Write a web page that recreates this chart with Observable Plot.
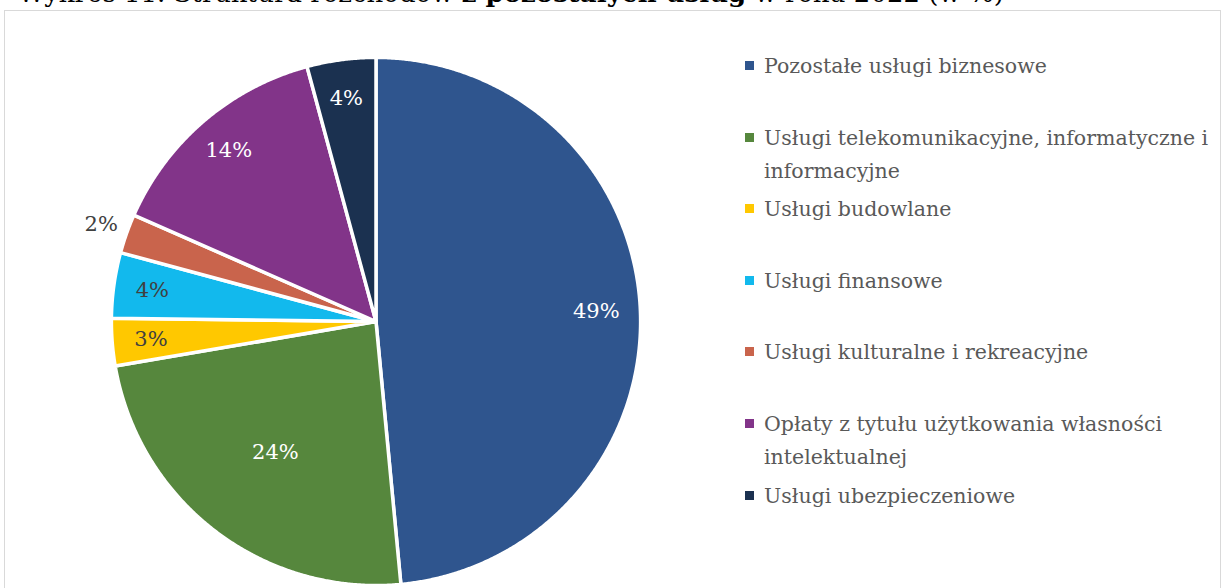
<!DOCTYPE html>
<html>
<head>
<meta charset="utf-8">
<script src="https://cdn.jsdelivr.net/npm/d3@7"></script>
<script src="https://cdn.jsdelivr.net/npm/@observablehq/plot@0.6"></script>
<style>
  html, body { margin: 0; padding: 0; background: #fff; overflow: hidden; }
  body { width: 1224px; height: 588px; position: relative; font-family: "DejaVu Serif", serif; }
  #title { position: absolute; left: 18px; top: -22px; font-size: 26px; color: #000; white-space: nowrap; line-height: 30px; }
  #frame { position: absolute; left: 4px; top: 10px; width: 1217px; height: 600px; border: 1px solid #d9d9d9; box-sizing: border-box; }
  #chart { position: absolute; left: 0; top: 0; }
  #legend { position: absolute; left: 745px; top: 50px; width: 478px; color: #595959; font-size: 20.5px; }
  .item { position: relative; height: 71.6px; }
  .sw { position: absolute; left: 0; top: 11px; width: 9px; height: 9px; }
  .lbl { position: absolute; left: 19px; top: 0; line-height: 33px; white-space: pre; }
</style>
</head>
<body>
<div id="frame"></div>
<div id="title">Wykres 11. Struktura rozchodów <b>z pozostałych usług</b> w roku 2022 (w %)</div>
<div id="chart"></div>
<div id="legend"></div>
<script>
const categories = [
  "Pozostałe usługi biznesowe",
  "Usługi telekomunikacyjne, informatyczne i informacyjne",
  "Usługi budowlane",
  "Usługi finansowe",
  "Usługi kulturalne i rekreacyjne",
  "Opłaty z tytułu użytkowania własności intelektualnej",
  "Usługi ubezpieczeniowe"
];
const legendLabels = [
  "Pozostałe usługi biznesowe",
  "Usługi telekomunikacyjne, informatyczne i\ninformacyjne",
  "Usługi budowlane",
  "Usługi finansowe",
  "Usługi kulturalne i rekreacyjne",
  "Opłaty z tytułu użytkowania własności\nintelektualnej",
  "Usługi ubezpieczeniowe"
];
const shares = [48.5, 23.8, 2.9, 4.0, 2.4, 14.2, 4.2];
const colors = ["#2F558E", "#56873D", "#FFC800", "#12B9ED", "#C9644C", "#823489", "#1B3150"];

const data = categories.map((name, i) => ({name, value: shares[i], color: colors[i]}));
const arcs = d3.pie().sort(null).value(d => d.value)(data);

// polygon points for each slice (unit circle, angle clockwise from top)
const R = 1.008;
const pts = [];
for (const a of arcs) {
  const n = Math.max(2, Math.ceil((a.endAngle - a.startAngle) / 0.005));
  pts.push({name: a.data.name, x: 0, y: 0});
  for (let k = 0; k <= n; k++) {
    const t = a.startAngle + (a.endAngle - a.startAngle) * k / n;
    pts.push({name: a.data.name, x: R * Math.sin(t), y: R * Math.cos(t)});
  }
}

// label positions (Excel "best fit"-like rule)
function labelRadius(v) {
  if (v < 2.5) return 1.11;
  if (v >= 40) return 0.84;
  if (v >= 20) return 0.63;
  return 0.86;
}
const labels = arcs.map(a => {
  const m = (a.startAngle + a.endAngle) / 2;
  const r = labelRadius(a.data.value);
  const inside = r < 1;
  const dark = d3.lab(a.data.color).l < 60;
  return {
    x: r * Math.sin(m), y: r * Math.cos(m),
    text: Math.round(a.data.value) + "%",
    white: inside && dark
  };
});

const plot = Plot.plot({
  width: 760,
  height: 588,
  marginLeft: 113,
  marginRight: 122,
  marginTop: 59,
  marginBottom: 5,
  x: {domain: [-1, 1], axis: null},
  y: {domain: [-1, 1], axis: null},
  color: {domain: categories, range: colors},
  style: {background: "transparent", fontFamily: "DejaVu Serif, serif"},
  marks: [
    Plot.line(pts, {x: "x", y: "y", z: "name", fill: "name", stroke: "white", strokeWidth: 3.5, strokeLinejoin: "round", curve: "linear-closed"}),
    Plot.text(labels.filter(d => d.white), {x: "x", y: "y", text: "text", fill: "white", fontSize: 21}),
    Plot.text(labels.filter(d => !d.white), {x: "x", y: "y", text: "text", fill: "#404040", fontSize: 21})
  ]
});
document.getElementById("chart").appendChild(plot);

const legend = d3.select("#legend");
categories.forEach((c, i) => {
  const it = legend.append("div").attr("class", "item");
  it.append("div").attr("class", "sw").style("background", colors[i]);
  it.append("div").attr("class", "lbl").text(legendLabels[i]);
});
</script>
</body>
</html>
